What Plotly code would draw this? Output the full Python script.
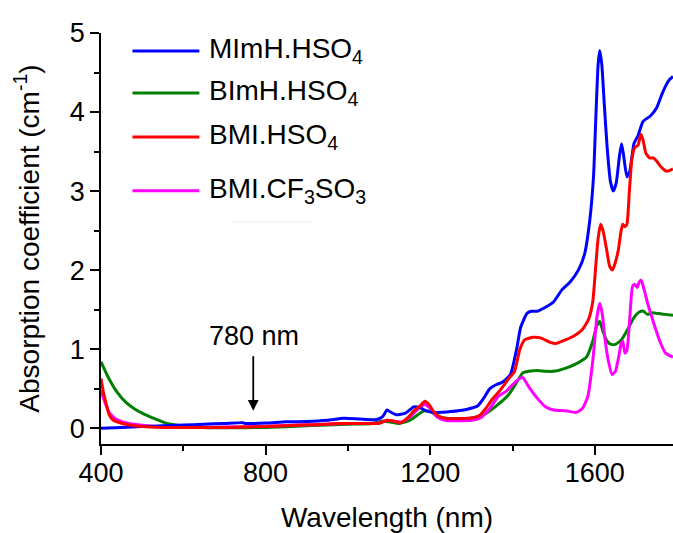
import plotly.graph_objects as go

# ---- data ----
mimh_x = [400,450,500,550,600,650,700,745,750,800,850,900,950,990,1030,1070,1085,1095,1105,1118,1140,1160,1175,1190,1210,1250,1290,1315,1330,1345,1360,1375,1395,1410,1420,1435,1445,1460,1480,1500,1520,1540,1560,1575,1588,1597,1603,1608,1612,1617,1623,1630,1638,1645,1652,1660,1665,1670,1678,1685,1695,1705,1717,1735,1750,1765,1780,1790]
mimh_y = [0.0,0.01,0.02,0.03,0.04,0.05,0.06,0.07,0.06,0.065,0.08,0.085,0.1,0.125,0.115,0.11,0.15,0.23,0.2,0.17,0.19,0.27,0.26,0.22,0.2,0.21,0.24,0.28,0.38,0.5,0.55,0.58,0.68,1.0,1.28,1.45,1.48,1.48,1.53,1.6,1.75,1.85,2.0,2.2,2.64,3.2,4.0,4.6,4.78,4.6,4.1,3.55,3.12,3.0,3.1,3.45,3.6,3.45,3.18,3.25,3.6,3.7,3.88,3.95,4.05,4.25,4.4,4.45]

bimh_x = [400,420,440,460,480,500,530,560,600,650,700,800,900,1000,1060,1085,1100,1125,1150,1170,1185,1200,1220,1250,1300,1330,1360,1390,1410,1425,1440,1460,1480,1500,1530,1560,1580,1595,1605,1612,1620,1630,1640,1650,1665,1680,1695,1708,1718,1728,1740,1755,1770,1790]
bimh_y = [0.84,0.62,0.45,0.33,0.25,0.19,0.12,0.06,0.03,0.01,0.005,0.01,0.03,0.05,0.06,0.09,0.08,0.06,0.1,0.17,0.22,0.21,0.15,0.12,0.13,0.17,0.28,0.42,0.58,0.7,0.72,0.73,0.72,0.72,0.76,0.83,0.9,1.1,1.3,1.35,1.22,1.1,1.06,1.06,1.12,1.25,1.4,1.47,1.48,1.44,1.46,1.45,1.44,1.43]

bmi_x = [400,406,413,420,430,452,500,550,700,800,860,920,980,1040,1075,1095,1110,1128,1145,1160,1175,1187,1197,1210,1225,1250,1300,1320,1335,1350,1370,1390,1405,1418,1430,1450,1470,1490,1505,1530,1550,1570,1585,1595,1603,1608,1614,1620,1628,1636,1643,1650,1657,1664,1668,1673,1678,1684,1690,1697,1705,1712,1717,1724,1733,1742,1750,1762,1775,1790]
bmi_y = [0.63,0.45,0.3,0.17,0.1,0.06,0.02,0.01,0.01,0.02,0.035,0.045,0.06,0.06,0.06,0.1,0.09,0.07,0.13,0.22,0.28,0.34,0.3,0.2,0.14,0.12,0.13,0.16,0.25,0.36,0.48,0.62,0.72,1.0,1.12,1.15,1.14,1.09,1.07,1.12,1.17,1.25,1.38,1.6,2.1,2.4,2.58,2.5,2.28,2.05,2.0,2.1,2.25,2.5,2.58,2.55,2.58,3.0,3.4,3.55,3.58,3.72,3.65,3.48,3.42,3.42,3.38,3.3,3.25,3.28]

bmicf_x = [400,410,421,435,452,480,534,600,700,800,880,950,1000,1075,1095,1110,1130,1150,1170,1187,1200,1215,1235,1300,1325,1345,1365,1385,1400,1415,1425,1440,1460,1480,1500,1530,1555,1570,1583,1595,1605,1612,1618,1625,1633,1642,1650,1658,1663,1668,1673,1678,1685,1692,1698,1703,1708,1713,1720,1730,1745,1758,1772,1790]
bmicf_y = [0.48,0.32,0.19,0.12,0.08,0.05,0.02,0.01,0.015,0.025,0.04,0.05,0.06,0.065,0.1,0.09,0.08,0.14,0.24,0.3,0.25,0.15,0.1,0.1,0.14,0.25,0.4,0.47,0.55,0.62,0.64,0.52,0.38,0.27,0.23,0.22,0.2,0.25,0.4,0.85,1.4,1.58,1.45,1.12,0.85,0.68,0.72,0.9,1.05,1.1,0.95,0.98,1.4,1.8,1.82,1.78,1.85,1.87,1.75,1.55,1.3,1.1,0.95,0.9]

series_names = ["MImH.HSO<sub>4</sub>", "BImH.HSO<sub>4</sub>", "BMI.HSO<sub>4</sub>", "BMI.CF<sub>3</sub>SO<sub>3</sub>"]
series_colors = ["#0000FF", "#008000", "#FF0000", "#FF00FF"]
series_x = [mimh_x, bimh_x, bmi_x, bmicf_x]
series_y = [mimh_y, bimh_y, bmi_y, bmicf_y]

x_ticks = [400, 800, 1200, 1600]
y_ticks = [0, 1, 2, 3, 4, 5]

FONT = "Liberation Sans, Arial, sans-serif"

fig = go.Figure()
draw_order = [1, 3, 0, 2]
for i in draw_order:
    fig.add_trace(go.Scatter(x=series_x[i], y=series_y[i], mode="lines", name=series_names[i],
                             line=dict(color=series_colors[i], width=3, shape="spline", smoothing=0.5),
                             showlegend=False))

# custom legend (long line samples like the reference)
leg_y = [0.956, 0.854, 0.747, 0.616]
for i in range(4):
    fig.add_shape(type="line", xref="paper", yref="paper", x0=0.055, x1=0.172, y0=leg_y[i], y1=leg_y[i],
                  line=dict(color=series_colors[i], width=3))
    fig.add_annotation(xref="paper", yref="paper", x=0.186, y=leg_y[i] + 0.002, text=series_names[i],
                       showarrow=False, xanchor="left", yanchor="middle",
                       font=dict(family=FONT, size=28, color="#000"))
fig.add_shape(type="line", xref="paper", yref="paper", x0=0.228, x1=0.37, y0=0.54, y1=0.54,
              line=dict(color="#eeeeee", width=1))

# 780 nm marker
fig.add_annotation(x=770, y=0.22, ax=770, ay=0.93, xref="x", yref="y", axref="x", ayref="y",
                   showarrow=True, arrowhead=2, arrowsize=1.2, arrowwidth=1.8, arrowcolor="#000", text="")
fig.add_annotation(x=773, y=1.17, xref="x", yref="y", text="780 nm", showarrow=False,
                   font=dict(family=FONT, size=27, color="#000"))

fig.update_layout(
    width=673, height=533,
    margin=dict(l=101, r=0, t=33, b=89, autoexpand=False),
    plot_bgcolor="white", paper_bgcolor="white",
    font=dict(family=FONT, size=27, color="#000"),
)
fig.update_xaxes(range=[400, 1790], tickvals=x_ticks, ticks="outside", ticklen=9, tickwidth=1.5,
                 tickcolor="#000", showline=True, linecolor="#000", linewidth=1.5, showgrid=False,
                 zeroline=False, tickfont=dict(size=27), automargin=False, ticklabelstandoff=-5,
                 minor=dict(dtick=200, tick0=400, ticks="outside", ticklen=5, tickwidth=1.5, tickcolor="#000"),
                 title=dict(text="Wavelength (nm)", font=dict(size=28), standoff=20))
fig.update_yaxes(range=[-0.2, 5], tickvals=y_ticks, ticks="outside", ticklen=9, tickwidth=1.5,
                 tickcolor="#000", showline=True, linecolor="#000", linewidth=1.5, showgrid=False,
                 zeroline=False, tickfont=dict(size=27), automargin=False,
                 minor=dict(dtick=0.5, tick0=0, ticks="outside", ticklen=5, tickwidth=1.5, tickcolor="#000"),
                 title=dict(text="Absorption coefficient (cm<sup>-1</sup>)", font=dict(size=28), standoff=22))

fig.write_html("out.html", config={"displayModeBar": False},
               post_script="document.body.style.margin='0';document.body.style.overflow='hidden';")
